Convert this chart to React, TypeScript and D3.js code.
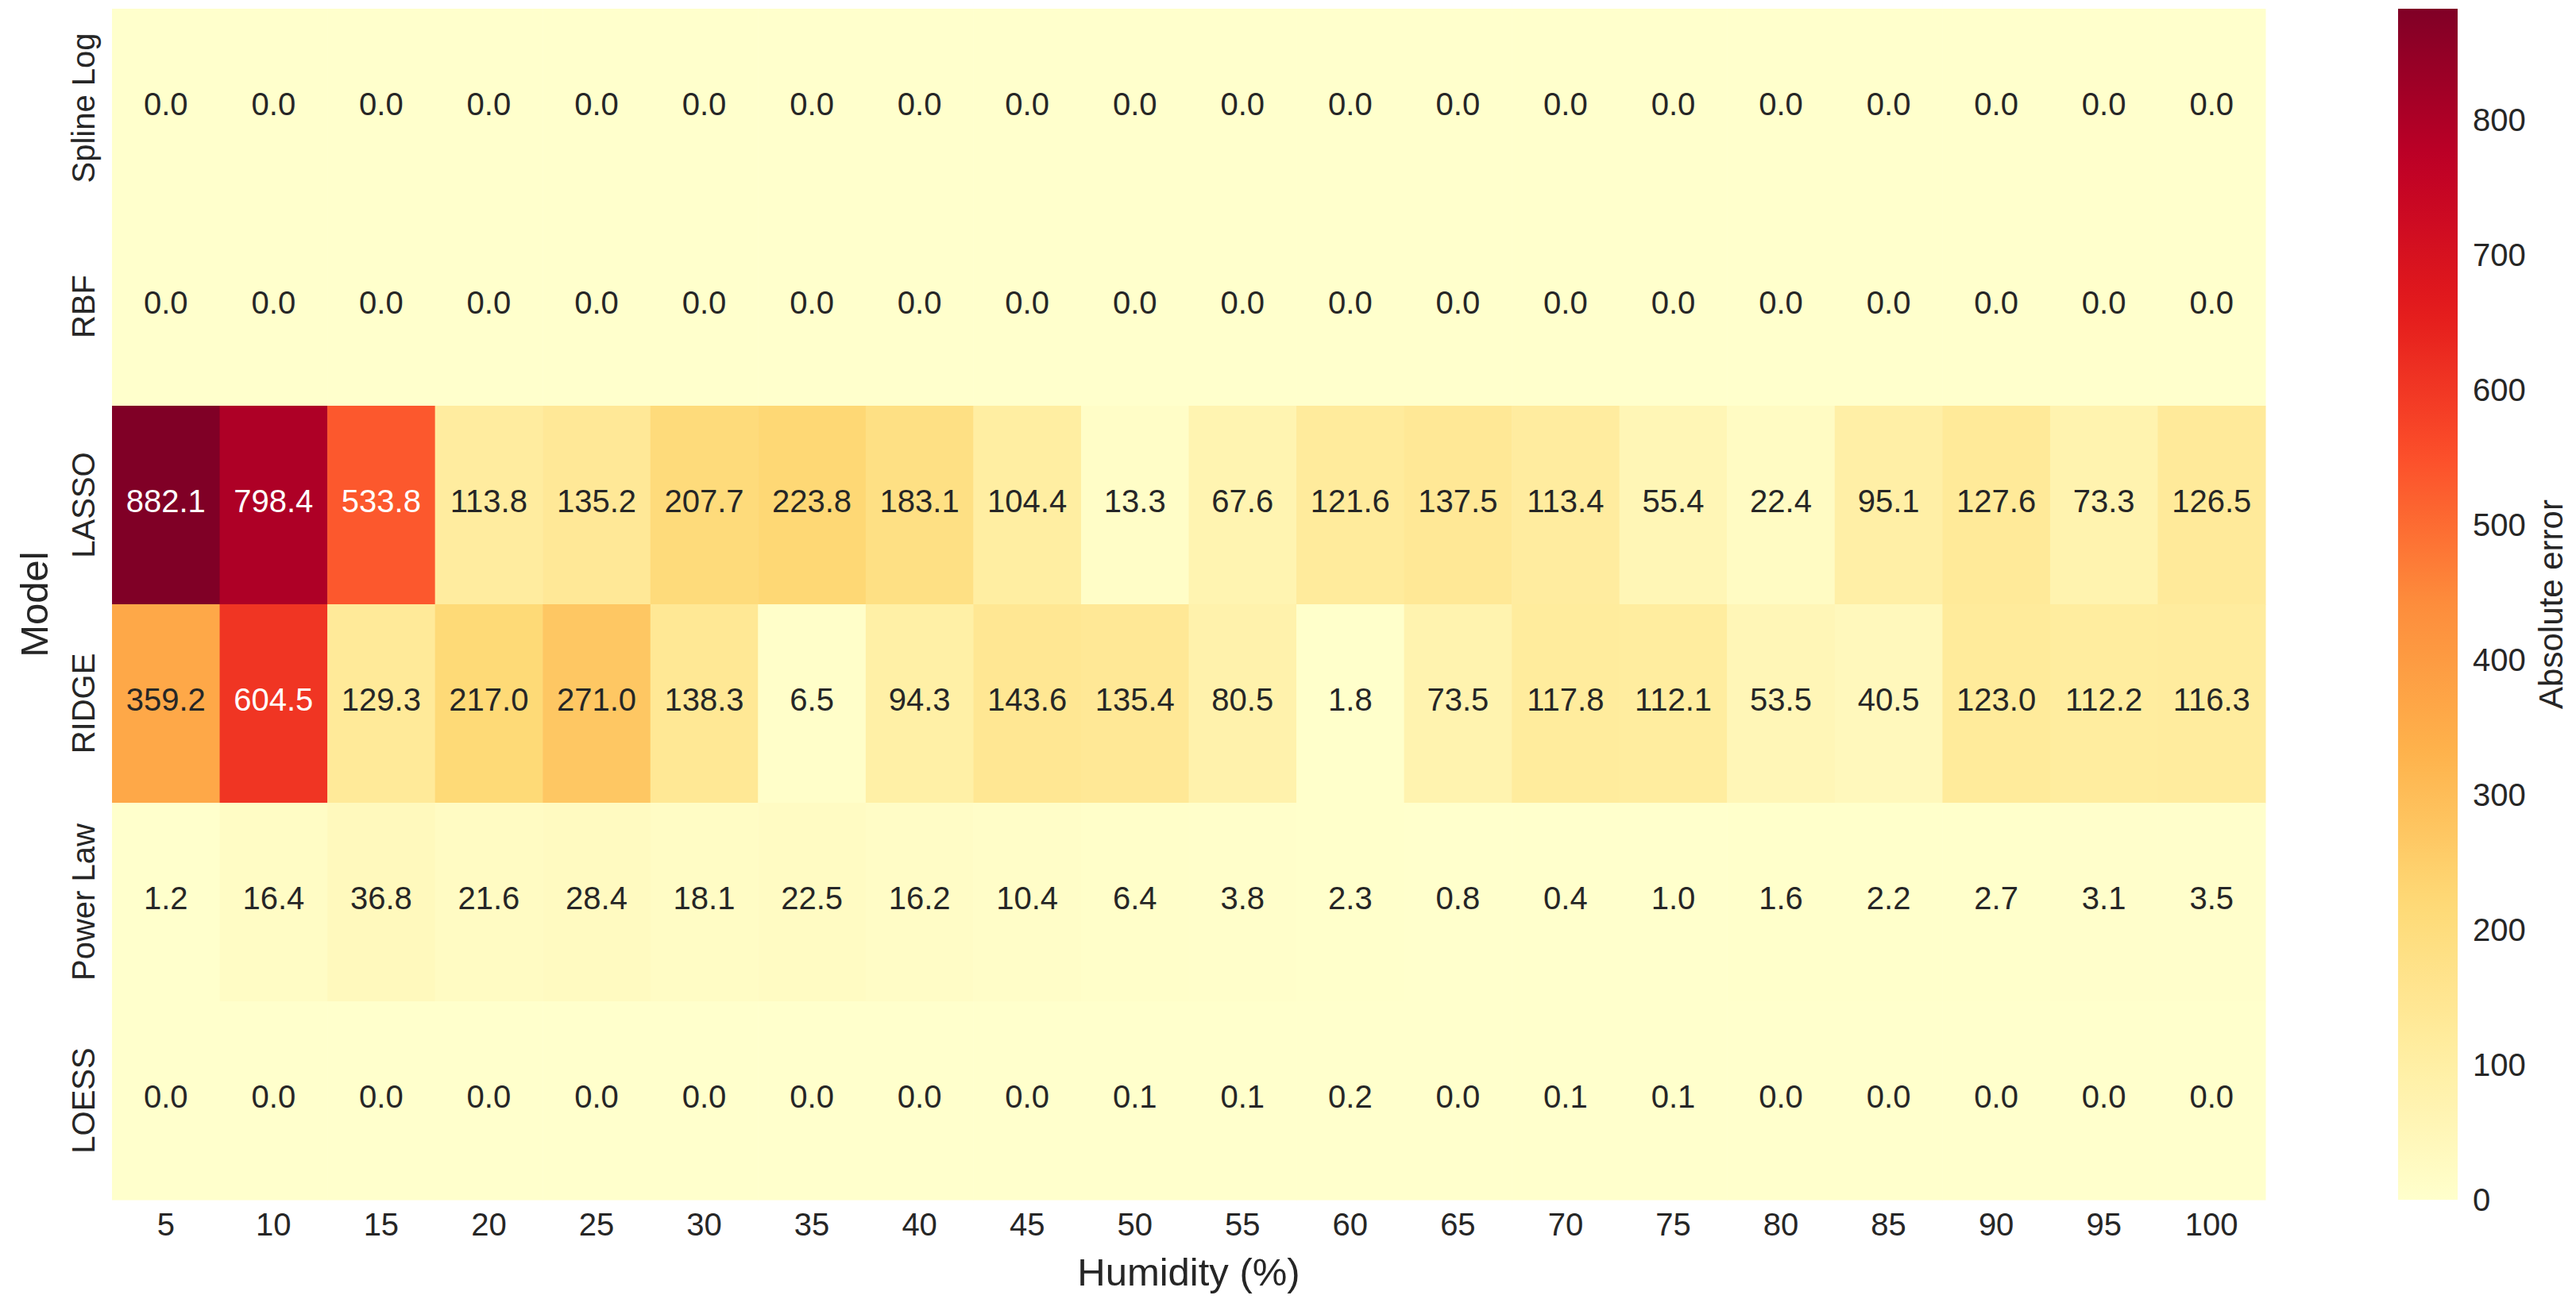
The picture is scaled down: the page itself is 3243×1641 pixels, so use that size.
import React, { useEffect, useRef } from 'react';
import * as d3 from 'd3';

// 데이터
const humidity = [5, 10, 15, 20, 25, 30, 35, 40, 45, 50, 55, 60, 65, 70, 75, 80, 85, 90, 95, 100];
const models = ['Spline Log', 'RBF', 'LASSO', 'RIDGE', 'Power Law', 'LOESS'];

const splineLog = [0, 0, 0, 0, 0, 0, 0, 0, 0, 0, 0, 0, 0, 0, 0, 0, 0, 0, 0, 0];
const rbf = [0, 0, 0, 0, 0, 0, 0, 0, 0, 0, 0, 0, 0, 0, 0, 0, 0, 0, 0, 0];
const lasso = [882.1, 798.4, 533.8, 113.8, 135.2, 207.7, 223.8, 183.1, 104.4, 13.3, 67.6, 121.6, 137.5, 113.4, 55.4, 22.4, 95.1, 127.6, 73.3, 126.5];
const ridge = [359.2, 604.5, 129.3, 217.0, 271.0, 138.3, 6.5, 94.3, 143.6, 135.4, 80.5, 1.8, 73.5, 117.8, 112.1, 53.5, 40.5, 123.0, 112.2, 116.3];
const powerLaw = [1.2, 16.4, 36.8, 21.6, 28.4, 18.1, 22.5, 16.2, 10.4, 6.4, 3.8, 2.3, 0.8, 0.4, 1.0, 1.6, 2.2, 2.7, 3.1, 3.5];
const loess = [0, 0, 0, 0, 0, 0, 0, 0, 0, 0.1, 0.1, 0.2, 0, 0.1, 0.1, 0, 0, 0, 0, 0];

const rows = [splineLog, rbf, lasso, ridge, powerLaw, loess];
const cbarTicks = [0, 100, 200, 300, 400, 500, 600, 700, 800];

// matplotlib YlOrRd (선형 보간)
const ylOrRd = ['#ffffcc', '#ffeda0', '#fed976', '#feb24c', '#fd8d3c', '#fc4e2a', '#e31a1c', '#bd0026', '#800026'];

const W = 3243;
const H = 1641;
const FONT = '"Liberation Sans", Arial, sans-serif';
const TEXT = '#262626';

function luminance(c: string) {
	const rgb = d3.rgb(c);
	const lin = (v: number) => {
		v = v / 255;
		return v <= 0.03928 ? v / 12.92 : Math.pow((v + 0.055) / 1.055, 2.4);
	};
	return 0.2126 * lin(rgb.r) + 0.7152 * lin(rgb.g) + 0.0722 * lin(rgb.b);
}

function Heatmap() {
	const svgRef = useRef<SVGSVGElement | null>(null);

	useEffect(() => {
		document.body.style.margin = '0';
		const svg = d3.select(svgRef.current);
		svg.selectAll('*').remove();

		const left = 141, right = 2852, top = 11, bottom = 1511;
		const vmax = d3.max(rows.flat()) as number;

		const x = d3.scaleBand<number>().domain(humidity).range([left, right]);
		const y = d3.scaleBand<string>().domain(models).range([top, bottom]);
		const color = d3.scaleLinear<string>()
			.domain(ylOrRd.map((_, i) => (vmax * i) / (ylOrRd.length - 1)))
			.range(ylOrRd)
			.interpolate(d3.interpolateRgb)
			.clamp(true);

		const cells = rows.flatMap((vals, r) => vals.map((v, c) => ({ model: models[r], hum: humidity[c], v })));

		const g = svg.append('g');
		g.selectAll('rect').data(cells).join('rect')
			.attr('x', d => x(d.hum)!)
			.attr('y', d => y(d.model)!)
			.attr('width', x.bandwidth() + 0.5)
			.attr('height', y.bandwidth() + 0.5)
			.attr('fill', d => color(d.v));

		g.selectAll('text').data(cells).join('text')
			.attr('x', d => x(d.hum)! + x.bandwidth() / 2)
			.attr('y', d => y(d.model)! + y.bandwidth() / 2 + 9)
			.attr('text-anchor', 'middle')
			.attr('font-family', FONT)
			.attr('font-size', 40)
			.attr('fill', d => (luminance(color(d.v)) > 0.408 ? TEXT : '#ffffff'))
			.text(d => d.v.toFixed(1));

		// x 축
		svg.append('g').selectAll('text').data(humidity).join('text')
			.attr('x', d => x(d)! + x.bandwidth() / 2)
			.attr('y', 1556)
			.attr('text-anchor', 'middle')
			.attr('font-family', FONT)
			.attr('font-size', 40)
			.attr('fill', TEXT)
			.text(d => d);

		svg.append('text')
			.attr('x', (left + right) / 2)
			.attr('y', 1619)
			.attr('text-anchor', 'middle')
			.attr('font-family', FONT)
			.attr('font-size', 49)
			.attr('fill', TEXT)
			.text('Humidity (%)');

		// y 축
		svg.append('g').selectAll('text').data(models).join('text')
			.attr('transform', d => `translate(119, ${y(d)! + y.bandwidth() / 2}) rotate(-90)`)
			.attr('text-anchor', 'middle')
			.attr('font-family', FONT)
			.attr('font-size', 40)
			.attr('fill', TEXT)
			.text(d => d);

		svg.append('text')
			.attr('transform', `translate(60, ${(top + bottom) / 2}) rotate(-90)`)
			.attr('text-anchor', 'middle')
			.attr('font-family', FONT)
			.attr('font-size', 49)
			.attr('fill', TEXT)
			.text('Model');

		// 컬러바
		const cb = d3.scaleLinear().domain([0, vmax]).range([bottom, top]);
		const grad = svg.append('defs').append('linearGradient')
			.attr('id', 'cbar').attr('x1', 0).attr('y1', 1).attr('x2', 0).attr('y2', 0);
		d3.range(0, 1.0001, 0.02).forEach(t => {
			grad.append('stop').attr('offset', t).attr('stop-color', color(t * vmax));
		});
		svg.append('rect')
			.attr('x', 3019).attr('y', top)
			.attr('width', 75).attr('height', bottom - top)
			.attr('fill', 'url(#cbar)');

		svg.append('g').selectAll('text').data(cbarTicks).join('text')
			.attr('x', 3113)
			.attr('y', d => cb(d) + 14)
			.attr('font-family', FONT)
			.attr('font-size', 40)
			.attr('fill', TEXT)
			.text(d => d);

		svg.append('text')
			.attr('transform', `translate(3226, ${(top + bottom) / 2}) rotate(-90)`)
			.attr('text-anchor', 'middle')
			.attr('font-family', FONT)
			.attr('font-size', 42)
			.attr('fill', TEXT)
			.text('Absolute error');
	}, []);

	return <svg ref={svgRef} width={W} height={H} style={{ display: 'block', background: '#ffffff' }}></svg>;
}

export default function App() {
	return <Heatmap />;
}
